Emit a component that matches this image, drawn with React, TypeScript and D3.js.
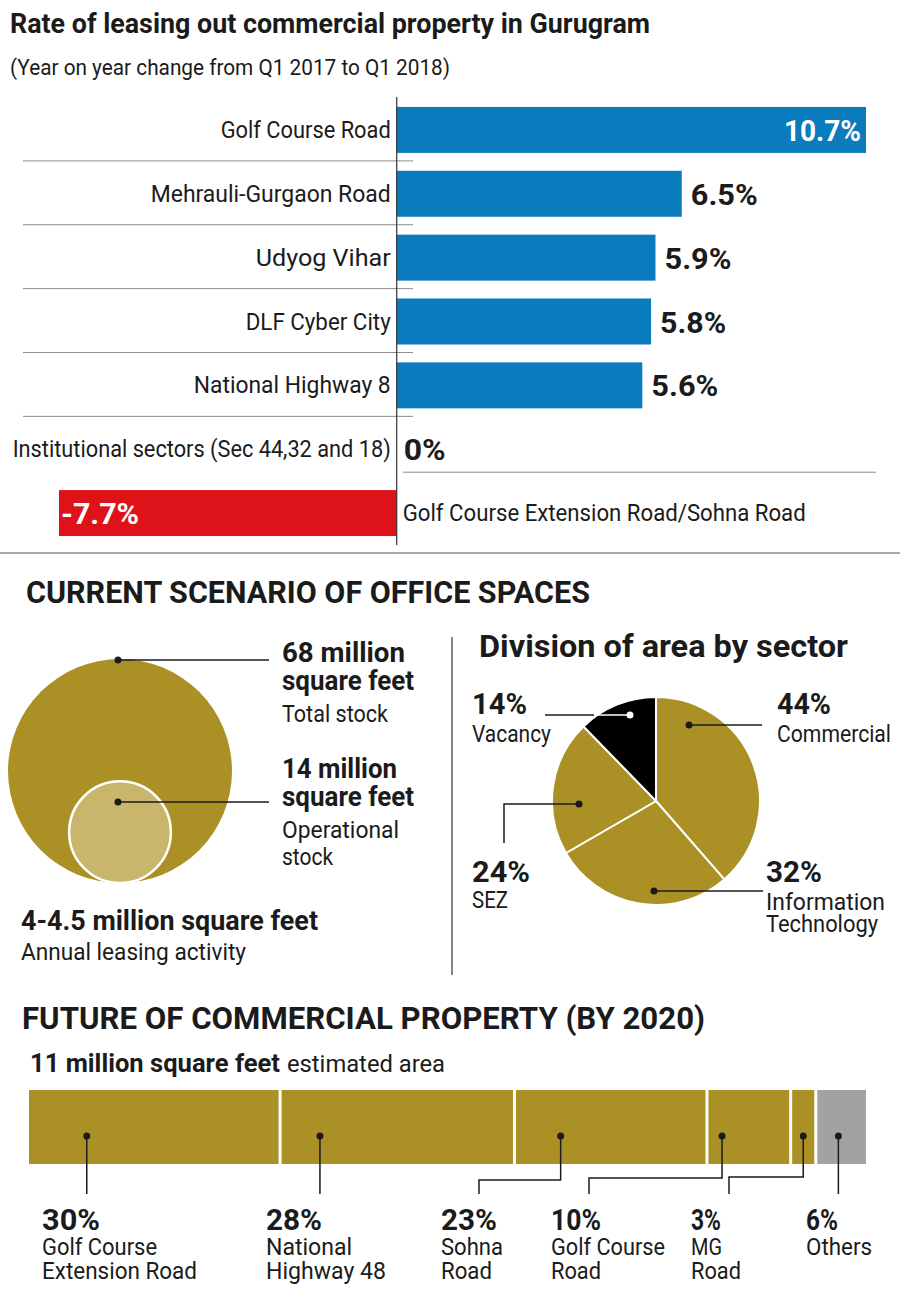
import React from 'react';
import * as d3 from 'd3';

// ---- data ----
const leasingAreas = [
  'Golf Course Road',
  'Mehrauli-Gurgaon Road',
  'Udyog Vihar',
  'DLF Cyber City',
  'National Highway 8',
  'Institutional sectors (Sec 44,32 and 18)',
  'Golf Course Extension Road/Sohna Road',
];
const leasingChange = [10.7, 6.5, 5.9, 5.8, 5.6, 0, -7.7];

const stockNames = ['Total stock', 'Operational stock'];
const stockValues = [68, 14]; // million sq ft
const leasingActivity = '4-4.5';

const sectorNames = ['Commercial', 'Information Technology', 'SEZ', 'Vacancy'];
const sectorShares = [44, 32, 24, 14];

const futureTotal = 11;
const futureAreas = ['Golf Course Extension Road', 'National Highway 48', 'Sohna Road', 'Golf Course Road', 'MG Road', 'Others'];
const futureShares = [30, 28, 23, 10, 3, 6];

const rowLabelW = [170, 240, 135, 145, 197, 378, 403];
const rowValueW = [77, 67, 67, 66, 67, 42, 78];
const futureLines = [['Golf Course', 'Extension Road'], ['National', 'Highway 48'], ['Sohna', 'Road'], ['Golf Course', 'Road'], ['MG', 'Road'], ['Others']];
const futureLineW = [[115, 155], [86, 120], [62, 51], [114, 50], [31, 50], [66]];
const futurePctW = [58, 56, 56, 50, 30, 32];
const futureLabelX = [42, 266, 441, 551, 691, 806];
const futureDotFrac = [0.23, 0.17, 0.24, 0.18, 0.5, 0.45];
const futureElbowY = [0, 0, 1180, 1178, 1177, 0];

const FONT = "Roboto, 'Noto Sans', sans-serif";
const INK = '#1b1b1b';
const BLUE = '#0a7bbd';
const RED = '#de1219';
const GOLD = '#ab9125';
const GOLD_LIGHT = '#c9b56c';
const GREY = '#a2a2a2';
const RULE = '#8c8c8c';

type TxtProps = {
  x: number; y: number; w?: number; size: number; bold?: boolean;
  anchor?: 'start' | 'middle' | 'end'; fill?: string; children: React.ReactNode;
};
const Txt = ({ x, y, w, size, bold = false, anchor = 'start', fill = INK, children }: TxtProps) => (
  <text
    x={x} y={y} fontSize={size} fontWeight={bold ? 700 : 400} textAnchor={anchor} fill={fill}
    textLength={w} lengthAdjust={w ? 'spacingAndGlyphs' : undefined}
  >
    {children}
  </text>
);

const Dot = ({ x, y, fill = INK }: { x: number; y: number; fill?: string }) => <circle cx={x} cy={y} r={3.5} fill={fill} />;

const LeasingBars = () => {
  const x = d3.scaleLinear().domain(d3.extent(leasingChange) as [number, number]).range([59, 866]);
  const y = d3.scaleBand().domain(leasingAreas).range([98, 545]).paddingInner(0.28).paddingOuter(0.14);
  const bw = y.bandwidth();
  const x0 = x(0);
  const maxV = d3.max(leasingChange) as number;

  return (
    <g>
      <Txt x={10} y={33} w={640} size={28} bold>Rate of leasing out commercial property in Gurugram</Txt>
      <Txt x={10} y={75} w={440} size={22}>(Year on year change from Q1 2017 to Q1 2018)</Txt>

      {leasingAreas.map((name, i) => {
        const v = leasingChange[i];
        const top = y(name) as number;
        const cy = top + bw / 2;
        const neg = v < 0;
        return (
          <g key={name}>
            {v !== 0 && (
              <rect x={x(Math.min(0, v))} y={top} width={Math.abs(x(v) - x0)} height={bw} fill={neg ? RED : BLUE} />
            )}
            <Txt x={neg ? x0 + 6 : x0 - 6} y={cy + 8} w={rowLabelW[i]} size={24} anchor={neg ? 'start' : 'end'}>{name}</Txt>
            {v === maxV ? (
              <Txt x={x(v) - 5} y={cy + 11} w={rowValueW[i]} size={30} bold anchor="end" fill="#fff">{`${v}%`}</Txt>
            ) : neg ? (
              <Txt x={x(v) + 2} y={cy + 11} w={rowValueW[i]} size={30} bold fill="#fff">{`${v}%`}</Txt>
            ) : (
              <Txt x={x(v) + (v === 0 ? 7 : 9)} y={cy + 11} w={rowValueW[i]} size={30} bold>{`${v}%`}</Txt>
            )}
            {i < 5 && <line x1={23} x2={413} y1={top + bw + 8} y2={top + bw + 8} stroke={RULE} strokeWidth={1} />}
            {i === 5 && <line x1={403} x2={876} y1={top + bw} y2={top + bw} stroke={RULE} strokeWidth={1} />}
          </g>
        );
      })}
      <line x1={x0} x2={x0} y1={97} y2={545} stroke="#333" strokeWidth={1.2} />
      <line x1={0} x2={900} y1={553} y2={553} stroke={RULE} strokeWidth={1.5} />
    </g>
  );
};

const StockCircles = () => {
  const r = d3.scaleSqrt().domain([0, d3.max(stockValues) as number]).range([0, 112]);
  const cx = 120;
  const base = 883;
  const rBig = r(stockValues[0]);
  const rSmall = r(stockValues[1]);
  const lineEnd = 269;
  return (
    <g>
      <Txt x={26} y={603} w={564} size={32} bold>CURRENT SCENARIO OF OFFICE SPACES</Txt>
      <circle cx={cx} cy={base - rBig} r={rBig} fill={GOLD} />
      <circle cx={cx} cy={base - rSmall} r={rSmall} fill={GOLD_LIGHT} stroke="#fff" strokeWidth={2.5} />

      <line x1={cx - 2} x2={lineEnd} y1={base - 2 * rBig + 1} y2={base - 2 * rBig + 1} stroke={INK} strokeWidth={1.5} />
      <Dot x={cx - 2} y={base - 2 * rBig + 1} />
      <Txt x={282} y={662} w={123} size={27} bold>{`${stockValues[0]} million`}</Txt>
      <Txt x={282} y={690} w={132} size={27} bold>square feet</Txt>
      <Txt x={282} y={722} w={106} size={24}>{stockNames[0]}</Txt>

      <line x1={cx - 2} x2={lineEnd} y1={802} y2={802} stroke={INK} strokeWidth={1.5} />
      <Dot x={cx - 2} y={802} />
      <Txt x={282} y={778} w={115} size={27} bold>{`${stockValues[1]} million`}</Txt>
      <Txt x={282} y={806} w={132} size={27} bold>square feet</Txt>
      <Txt x={282} y={838} w={117} size={24}>Operational</Txt>
      <Txt x={282} y={865} w={51} size={24}>stock</Txt>

      <Txt x={21} y={930} w={297} size={27} bold>{`${leasingActivity} million square feet`}</Txt>
      <Txt x={21} y={960} w={225} size={24}>Annual leasing activity</Txt>
    </g>
  );
};

const SectorPie = () => {
  const cx = 656;
  const cy = 801;
  const pie = d3.pie<number>().sort(null).value((d) => d);
  const arcs = pie(sectorShares);
  const arc = d3.arc<d3.PieArcDatum<number>>().innerRadius(0).outerRadius(104);
  const fills = [GOLD, GOLD, GOLD, '#000'];
  return (
    <g>
      <line x1={452} x2={452} y1={637} y2={975} stroke="#333" strokeWidth={1.2} />
      <Txt x={479} y={657} w={369} size={31} bold>Division of area by sector</Txt>
      <g transform={`translate(${cx},${cy})`}>
        {arcs.map((a, i) => (
          <path key={sectorNames[i]} d={arc(a) || ''} fill={fills[i]} stroke="#fff" strokeWidth={2} />
        ))}
      </g>

      {/* Vacancy */}
      <line x1={545} x2={594} y1={715} y2={715} stroke={INK} strokeWidth={1.5} />
      <line x1={594} x2={630} y1={715} y2={715} stroke="#fff" strokeWidth={1.5} />
      <Dot x={630} y={715} fill="#fff" />
      <Txt x={472} y={714} w={55} size={29} bold>{`${sectorShares[3]}%`}</Txt>
      <Txt x={472} y={742} w={79} size={24}>{sectorNames[3]}</Txt>

      {/* Commercial */}
      <line x1={689} x2={762} y1={725} y2={725} stroke={INK} strokeWidth={1.5} />
      <Dot x={689} y={725} />
      <Txt x={777} y={714} w={54} size={29} bold>{`${sectorShares[0]}%`}</Txt>
      <Txt x={777} y={742} w={114} size={24}>{sectorNames[0]}</Txt>

      {/* SEZ */}
      <polyline points="579,804 504,804 504,843" fill="none" stroke={INK} strokeWidth={1.5} />
      <Dot x={579} y={804} />
      <Txt x={472} y={882} w={58} size={29} bold>{`${sectorShares[2]}%`}</Txt>
      <Txt x={472} y={908} w={36} size={24}>{sectorNames[2]}</Txt>

      {/* IT */}
      <line x1={654} x2={763} y1={891} y2={891} stroke={INK} strokeWidth={1.5} />
      <Dot x={654} y={891} />
      <Txt x={766} y={882} w={56} size={29} bold>{`${sectorShares[1]}%`}</Txt>
      <Txt x={766} y={910} w={119} size={24}>Information</Txt>
      <Txt x={766} y={932} w={112} size={24}>Technology</Txt>
    </g>
  );
};

const FutureBar = () => {
  const x = d3.scaleLinear().domain([0, d3.sum(futureShares)]).range([29, 866]);
  const starts = d3.cumsum([0, ...futureShares]);
  const top = 1090;
  const bottom = 1164;
  const dotY = 1136;
  const n = futureShares.length;
  return (
    <g>
      <Txt x={22} y={1029} w={683} size={32} bold>FUTURE OF COMMERCIAL PROPERTY (BY 2020)</Txt>
      <Txt x={30} y={1072} w={250} size={25} bold>{`${futureTotal} million square feet`}</Txt>
      <Txt x={287} y={1072} w={158} size={24}>estimated area</Txt>

      {futureShares.map((v, i) => {
        const a = x(starts[i]) + (i > 0 ? 1.5 : 0);
        const b = x(starts[i] + v) - (i < n - 1 ? 1.5 : 0);
        const dx = x(starts[i] + v * futureDotFrac[i]);
        const lx = futureLabelX[i];
        const ey = futureElbowY[i];
        const pts = ey
          ? `${dx},${dotY} ${dx},${ey} ${lx + 38},${ey} ${lx + 38},${1194}`
          : `${dx},${dotY} ${dx},${1194}`;
        return (
          <g key={futureAreas[i]}>
            <rect x={a} y={top} width={b - a} height={bottom - top} fill={i === n - 1 ? GREY : GOLD} />
            <polyline points={pts} fill="none" stroke={INK} strokeWidth={1.5} />
            <Dot x={dx} y={dotY} />
            <Txt x={lx} y={1230} w={futurePctW[i]} size={30} bold>{`${v}%`}</Txt>
            {futureLines[i].map((t, j) => (
              <Txt key={t} x={lx} y={1255 + j * 24} w={futureLineW[i][j]} size={24}>{t}</Txt>
            ))}
          </g>
        );
      })}
    </g>
  );
}

export default function App() {
  return (
    <div style={{ position: 'absolute', left: 0, top: 0, background: '#fff' }}>
      <svg width={900} height={1297} style={{ display: 'block', fontFamily: FONT }}>
        <rect width={900} height={1297} fill="#fff" />
        <LeasingBars />
        <StockCircles />
        <SectorPie />
        <FutureBar />
      </svg>
    </div>
  );
}
